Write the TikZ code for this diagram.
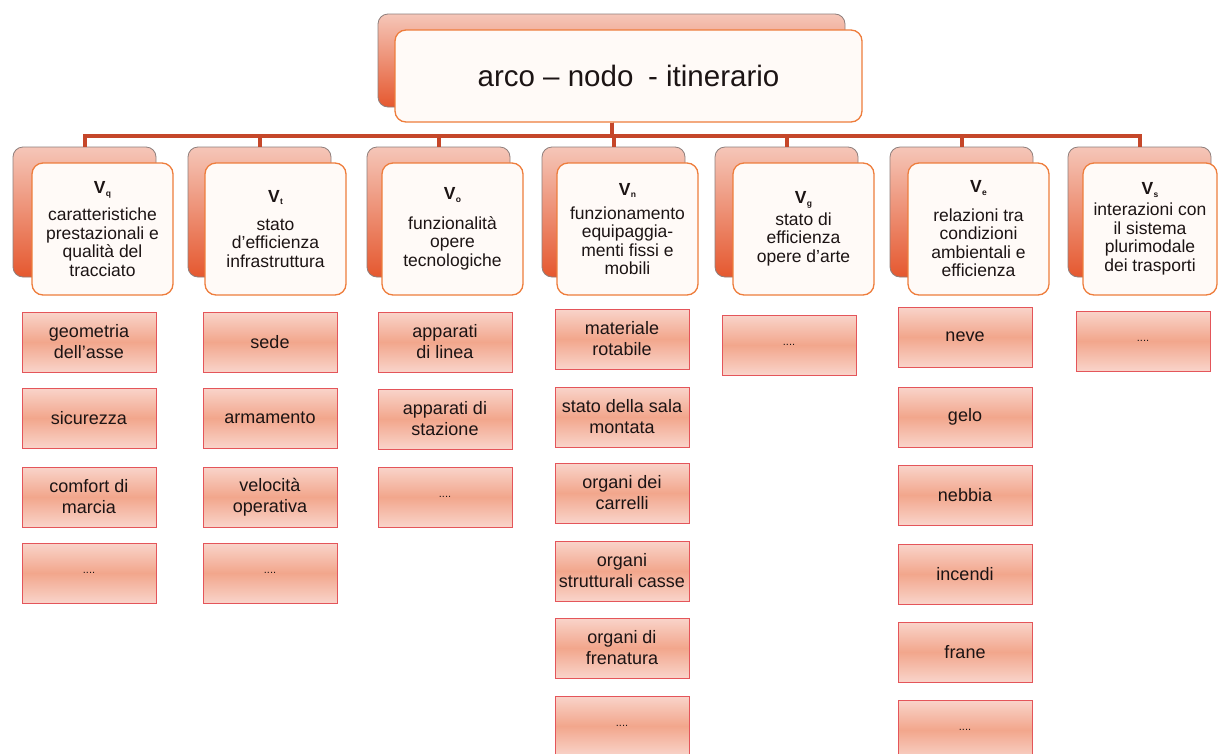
\documentclass[tikz,border=0pt]{standalone}
\usepackage{fontspec}
\setmainfont{Liberation Sans}
\definecolor{connc}{HTML}{C5472A}
\definecolor{backline}{HTML}{8F7F7C}
\definecolor{backtop}{HTML}{F5C6B8}
\definecolor{backbot}{HTML}{E5582F}
\definecolor{frontline}{HTML}{EE7D3C}
\definecolor{frontfill}{HTML}{FFFAF7}
\definecolor{leafline}{HTML}{E4555A}
\definecolor{leaftop}{HTML}{F9D4CA}
\definecolor{leafmid}{HTML}{F2A68C}
\definecolor{txt}{HTML}{1C1414}
\newcommand{\myV}[1]{\textbf{V}\kern0.4pt\raisebox{-2.5pt}{\fontsize{8.5}{9}\selectfont\bfseries #1}}
\begin{document}
\begin{tikzpicture}[x=1pt,y=-1pt,
  hback/.style={draw=backline, line width=0.8pt, rounded corners=10pt,
    top color=backtop, bottom color=backbot,
    minimum width=143pt, minimum height=130pt, inner sep=0pt},
  topback/.style={hback, minimum width=467pt, minimum height=93pt},
  hfront/.style={draw=frontline, line width=1.3pt, rounded corners=11pt,
    fill=frontfill, minimum width=141pt, minimum height=132pt,
    align=center, text=txt, inner sep=0pt,
    font=\fontsize{17.5}{18.5}\selectfont},
  topfront/.style={hfront, minimum width=467pt, minimum height=92pt,
    font=\fontsize{29.5}{32}\selectfont},
  leaf/.style={draw=leafline, line width=1pt,
    top color=leaftop, bottom color=leaftop, middle color=leafmid,
    minimum width=134pt, minimum height=60pt, align=center, text=txt,
    inner sep=0pt, font=\fontsize{18}{21}\selectfont},
  dots/.style={leaf, font=\fontsize{11}{12}\selectfont},
  conn/.style={draw=connc, line width=4pt}
]
\clip (0,0) rectangle (1218,753);
\fill[white] (0,0) rectangle (1218,753);

% top node
\node[topback] (tb) at (611.5,60.5) {};
\node[topfront] (tf) at (628.5,76) {arco -- nodo\hspace{0.5em}- itinerario};

% header back boxes
\node[hback] (b1) at (84.5,212) {};
\node[hback] (b2) at (259.5,212) {};
\node[hback] (b3) at (438.5,212) {};
\node[hback] (b4) at (613.5,212) {};
\node[hback] (b5) at (786.5,212) {};
\node[hback] (b6) at (961.5,212) {};
\node[hback] (b7) at (1139.5,212) {};

% header front boxes
\node[hfront] (f1) at (102.5,229) {\myV{q}\\[8.5pt]caratteristiche\\prestazionali e\\qualità del\\tracciato};
\node[hfront] (f2) at (275.5,229) {\myV{t}\\[9.5pt]stato\\d'efficienza\\infrastruttura};
\node[hfront] (f3) at (452.5,229) {\myV{o}\\[11pt]funzionalità\\opere\\tecnologiche};
\node[hfront] (f4) at (627.5,229) {\myV{n}\\[5.5pt]funzionamento\\equipaggia-\\menti fissi e\\mobili};
\node[hfront] (f5) at (803.5,229) {\myV{g}\\[3pt]stato di\\efficienza\\opere d'arte};
\node[hfront] (f6) at (978.5,229) {\myV{e}\\[10pt]relazioni tra\\condizioni\\ambientali e\\efficienza};
\node[hfront, minimum width=134pt] (f7) at (1150,229) {\myV{s}\\[2.5pt]interazioni con\\il sistema\\plurimodale\\dei trasporti};

% connectors
\coordinate (bar) at (0,135.5);
\foreach \n in {b1,b2,b3,b4,b5,b6,b7}
  \draw[conn] (tb.center |- tf.south) -- (tb.center |- bar) -| (\n.north);

% column q
\node[leaf] (q1) at (89,342) {geometria\\dell'asse};
\node[leaf] (q2) at (89,418) {sicurezza};
\node[leaf] (q3) at (89,497) {comfort di\\marcia};
\node[dots] (q4) at (89,573) {....};
% column t
\node[leaf] (t1) at (270,342) {sede};
\node[leaf] (t2) at (270,418) {armamento};
\node[leaf] (t3) at (270,497) {velocità\\operativa};
\node[dots] (t4) at (270,573) {....};
% column o
\node[leaf] (o1) at (445,342) {apparati\\di linea};
\node[leaf] (o2) at (445,419) {apparati di\\stazione};
\node[dots] (o3) at (445,497) {....};
% column n
\node[leaf] (n1) at (622,339) {materiale\\rotabile};
\node[leaf] (n2) at (622,417) {stato della sala\\montata};
\node[leaf] (n3) at (622,493) {organi dei\\carrelli};
\node[leaf] (n4) at (622,571) {organi\\strutturali casse};
\node[leaf] (n5) at (622,648) {organi di\\frenatura};
\node[dots] (n6) at (622,726) {....};
% column g
\node[dots] (g1) at (789,345) {....};
% column e
\node[leaf] (e1) at (965,337) {neve};
\node[leaf] (e2) at (965,417) {gelo};
\node[leaf] (e3) at (965,495) {nebbia};
\node[leaf] (e4) at (965,574) {incendi};
\node[leaf] (e5) at (965,652) {frane};
\node[dots] (e6) at (965,730) {....};
% column s
\node[dots] (s1) at (1143,341) {....};
\end{tikzpicture}
\end{document}
